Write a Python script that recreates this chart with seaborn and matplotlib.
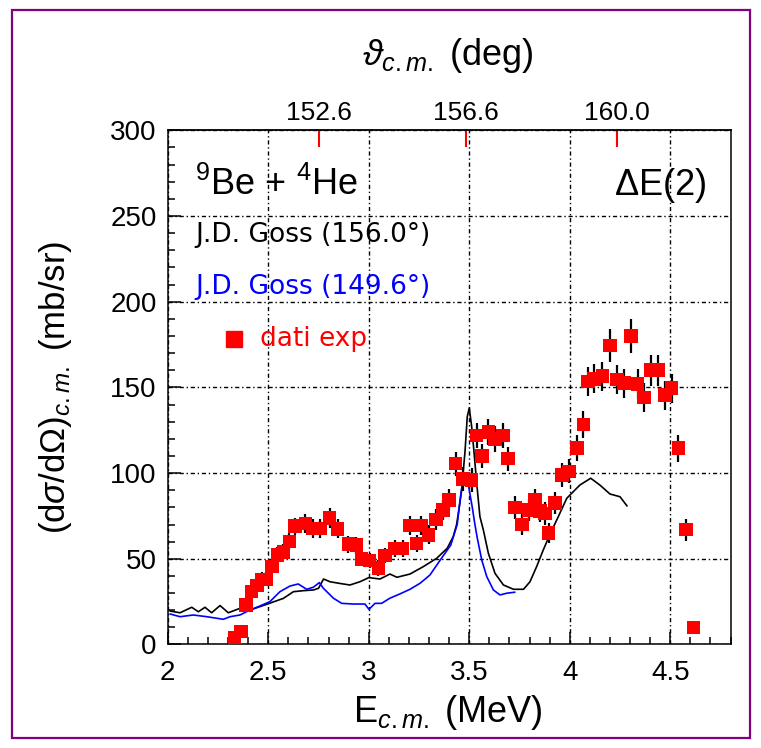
import numpy as np
import pandas as pd
import matplotlib
matplotlib.use("Agg")
import matplotlib.pyplot as plt
import seaborn as sns
from matplotlib.ticker import MultipleLocator, FormatStrFormatter
from matplotlib.patches import Rectangle

# Experimental cross sections (9Be + 4He, detector dE(2))
e_exp = [2.332, 2.364, 2.390, 2.416, 2.443, 2.468, 2.490, 2.518, 2.545, 2.575,
         2.605, 2.633, 2.685, 2.722, 2.757, 2.805, 2.845, 2.898, 2.938, 2.963,
         3.004, 3.048, 3.082, 3.130, 3.168, 3.205, 3.238, 3.260, 3.298, 3.335,
         3.368, 3.398, 3.432, 3.468, 3.512, 3.537, 3.562, 3.595, 3.628, 3.667,
         3.692, 3.727, 3.762, 3.795, 3.828, 3.853, 3.877, 3.895, 3.927, 3.962,
         3.995, 4.035, 4.068, 4.092, 4.120, 4.162, 4.200, 4.235, 4.270, 4.305,
         4.337, 4.368, 4.403, 4.440, 4.473, 4.507, 4.540, 4.578, 4.615]
sig_exp = [4.0, 7.5, 23.0, 31.0, 34.5, 38.0, 38.0, 45.5, 52.3, 54.0,
           60.0, 69.0, 70.7, 67.8, 67.8, 73.8, 67.5, 58.5, 58.0, 50.0,
           49.0, 44.5, 52.0, 56.0, 56.0, 69.5, 59.0, 69.5, 64.0, 73.0,
           78.5, 84.3, 105.5, 96.5, 96.0, 122.0, 110.0, 124.0, 120.0, 122.0,
           108.5, 80.0, 70.0, 78.5, 84.3, 78.0, 76.5, 65.0, 82.5, 99.0,
           101.0, 114.7, 128.3, 153.5, 155.0, 156.6, 174.5, 154.5, 152.5, 180.0,
           152.0, 144.0, 160.0, 160.0, 145.5, 149.5, 114.5, 67.0, 10.0]
err_exp = [2.0, 2.0, 3.0, 3.5, 3.5, 4.0, 4.0, 4.0, 4.5, 4.5,
           5.0, 5.0, 5.5, 5.5, 5.5, 6.0, 5.5, 5.0, 5.0, 4.5,
           4.5, 4.5, 4.5, 5.0, 5.0, 5.5, 5.0, 5.5, 5.5, 6.0,
           6.0, 6.5, 7.0, 7.0, 7.0, 7.5, 7.0, 7.5, 7.5, 7.5,
           7.0, 6.5, 6.0, 6.5, 6.5, 6.5, 6.5, 6.0, 6.5, 7.0,
           7.0, 7.5, 8.0, 8.5, 8.5, 8.5, 9.5, 8.5, 8.5, 10.0,
           8.5, 8.5, 9.0, 9.0, 8.5, 8.5, 8.0, 6.5, 2.0]

# J.D. Goss excitation function at 156.0 deg
e_goss156 = [2.011, 2.061, 2.119, 2.152, 2.185, 2.218, 2.260, 2.301, 2.359, 2.409,
             2.459, 2.508, 2.575, 2.625, 2.675, 2.725, 2.750, 2.775, 2.807, 2.857,
             2.906, 2.956, 3.000, 3.056, 3.105, 3.140, 3.205, 3.271, 3.338, 3.390,
             3.420, 3.437, 3.450, 3.462, 3.479, 3.490, 3.500, 3.512, 3.523, 3.537,
             3.553, 3.570, 3.595, 3.628, 3.670, 3.720, 3.770, 3.802, 3.835, 3.868,
             3.900, 3.943, 3.985, 4.050, 4.104, 4.150, 4.200, 4.250, 4.285]
sig_goss156 = [19.5, 18.5, 21.7, 19.1, 21.7, 18.5, 22.7, 18.5, 21.1, 20.1,
               22.1, 24.1, 26.9, 30.8, 31.4, 31.8, 32.8, 38.2, 36.6, 35.6,
               34.7, 36.6, 39.0, 38.2, 41.1, 39.2, 41.1, 45.4, 50.3, 56.1,
               62.9, 70.0, 80.0, 90.0, 113.0, 133.0, 138.0, 127.0, 113.0, 94.0,
               74.6, 66.8, 53.2, 41.5, 34.7, 32.2, 32.2, 36.6, 45.4, 55.1,
               63.9, 74.6, 85.3, 93.0, 97.0, 93.0, 87.8, 86.2, 80.8]

# J.D. Goss excitation function at 149.6 deg
e_goss149 = [2.011, 2.061, 2.127, 2.194, 2.276, 2.310, 2.359, 2.409, 2.459, 2.508,
             2.558, 2.608, 2.649, 2.691, 2.724, 2.754, 2.774, 2.824, 2.865, 2.923,
             2.981, 3.001, 3.031, 3.064, 3.105, 3.155, 3.205, 3.255, 3.304, 3.354,
             3.408, 3.440, 3.455, 3.468, 3.480, 3.490, 3.503, 3.515, 3.528, 3.540,
             3.562, 3.587, 3.620, 3.653, 3.686, 3.727]
sig_goss149 = [17.8, 16.2, 17.2, 16.2, 14.7, 16.2, 17.2, 20.1, 22.5, 25.0,
               30.8, 34.1, 35.3, 32.2, 33.4, 36.1, 32.8, 27.0, 24.0, 23.6,
               23.6, 20.5, 24.0, 24.0, 27.0, 29.5, 32.2, 35.7, 40.5, 49.0,
               58.0, 70.0, 85.0, 96.0, 99.0, 97.0, 88.0, 80.0, 70.0, 62.0,
               49.3, 39.6, 31.8, 28.9, 29.9, 30.5]

# c.m. angle scale on the upper axis
theta_labels = ["152.6", "156.6", "160.0"]
theta_energy = [2.752, 3.485, 4.236]

sns.set_style("ticks")
plt.rcParams["font.family"] = ["Liberation Sans", "DejaVu Sans"]
plt.rcParams["mathtext.fontset"] = "custom"
plt.rcParams["mathtext.rm"] = "Liberation Sans"
plt.rcParams["mathtext.it"] = "Liberation Sans:italic"
plt.rcParams["mathtext.bf"] = "Liberation Sans:bold"
for key in ["text.color", "axes.labelcolor", "xtick.color", "ytick.color",
            "xtick.labelcolor", "ytick.labelcolor"]:
    plt.rcParams[key] = "black"

fig = plt.figure(figsize=(7.61, 7.48), dpi=100)
ax = fig.add_axes([0.2205, 0.1384, 0.7395, 0.6874])

exp_df = pd.DataFrame({"E": e_exp, "sig": sig_exp, "err": err_exp})
g156 = pd.DataFrame({"E": e_goss156, "sig": sig_goss156})
g149 = pd.DataFrame({"E": e_goss149, "sig": sig_goss149})

sns.lineplot(data=g156, x="E", y="sig", sort=False, estimator=None,
             color="black", lw=1.2, ax=ax, zorder=3)
sns.lineplot(data=g149, x="E", y="sig", sort=False, estimator=None,
             color="#0000ff", lw=1.2, ax=ax, zorder=3)
ax.errorbar(exp_df["E"], exp_df["sig"], yerr=exp_df["err"], fmt="none",
            ecolor="black", elinewidth=1.6, capsize=0, zorder=4)
sns.scatterplot(data=exp_df, x="E", y="sig", marker="s", s=95,
                color="#ff0000", edgecolor="none", ax=ax, zorder=5)

ax.set_xlim(2.0, 4.8)
ax.set_ylim(0, 300)
ax.xaxis.set_major_locator(MultipleLocator(0.5))
ax.xaxis.set_minor_locator(MultipleLocator(0.1))
ax.xaxis.set_major_formatter(FormatStrFormatter("%g"))
ax.yaxis.set_major_locator(MultipleLocator(50))
ax.yaxis.set_minor_locator(MultipleLocator(10))
ax.tick_params(which="both", direction="in", top=False, right=False,
               labelsize=20, width=1.1, color="black")
ax.tick_params(which="major", length=9)
ax.tick_params(which="minor", length=5)
ax.tick_params(axis="x", which="major", pad=11)
ax.tick_params(axis="y", which="major", pad=8)
ax.grid(True, which="major", color="black", lw=1.0,
        linestyle=(0, (3, 2, 1, 2)))
for sp in ax.spines.values():
    sp.set_linewidth(1.1)
    sp.set_color("black")
ax.set_xlabel("")
ax.set_ylabel("")

# axis titles placed in axes coordinates
ax.text(0.498, -0.132, r"E$_{c.m.}$ (MeV)", fontsize=26, ha="center",
        va="center", transform=ax.transAxes)
ax.text(-0.200, 0.50, r"(d$\sigma$/d$\Omega$)$_{c.m.}$ (mb/sr)", fontsize=25,
        ha="center", va="center", rotation=90, transform=ax.transAxes)
ax.text(0.498, 1.145, r"$\vartheta_{c.m.}$ (deg)", fontsize=26, ha="center",
        va="center", transform=ax.transAxes)

top = ax.secondary_xaxis("top")
top.set_xticks(theta_energy, labels=theta_labels)
top.xaxis.set_minor_locator(plt.NullLocator())
top.tick_params(direction="in", length=12, width=1.5, color="#ff0000",
                labelcolor="black", labelsize=19, pad=4)
top.spines["top"].set_linewidth(1.1)

ax.text(2.135, 268, r"$^{9}$Be + $^{4}$He", fontsize=26, va="center", ha="left")
ax.text(4.678, 268, r"$\Delta$E(2)", fontsize=26, va="center", ha="right")
ax.text(2.135, 239, "J.D. Goss (156.0°)", fontsize=19, color="black",
        va="center", ha="left", family=["DejaVu Sans"])
ax.text(2.135, 208.5, "J.D. Goss (149.6°)", fontsize=19, color="#0000ff",
        va="center", ha="left", family=["DejaVu Sans"])
ax.plot([2.327], [178], marker="s", ms=12, color="#ff0000", ls="none")
ax.text(2.459, 178, "dati exp", fontsize=19, color="#ff0000",
        va="center", ha="left", family=["DejaVu Sans"])

fig.patches.append(Rectangle((0.0158, 0.0134), 0.9697, 0.9732,
                             transform=fig.transFigure, fill=False,
                             edgecolor="#800080", lw=1.6, zorder=0))

fig.savefig("out.png", dpi=100)
